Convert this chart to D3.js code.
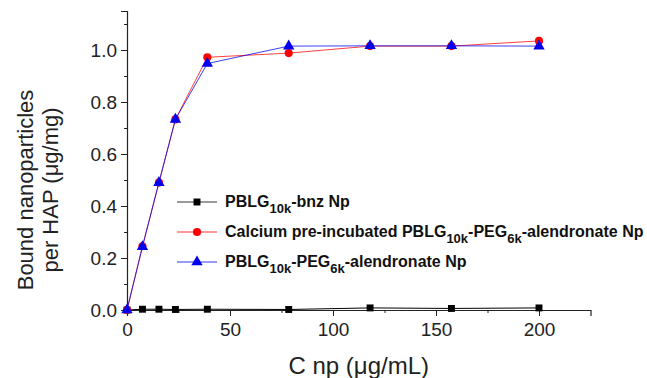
<!DOCTYPE html>
<html>
<head>
<meta charset="utf-8">
<script src="https://cdn.jsdelivr.net/npm/d3@7"></script>
<style>
  html, body { margin: 0; padding: 0; background: #fff; }
  svg { display: block; font-family: Arial, "Liberation Sans", sans-serif; }
</style>
</head>
<body>
<svg id="chart" width="647" height="378"></svg>
<script>
// Nanoparticle concentration (µg/mL)
const concentrations = [0, 7.5, 15.5, 23.5, 39, 78.5, 118, 157.5, 200];
// Bound nanoparticles per HAP (µg/mg)
const bnzValues      = [0, 0.003, 0.003, 0.002, 0.003, 0.002, 0.008, 0.006, 0.008];
const calciumValues  = [0, 0.245, 0.49, 0.733, 0.972, 0.988, 1.015, 1.015, 1.035];
const alendValues    = [0, 0.243, 0.49, 0.733, 0.948, 1.015, 1.016, 1.016, 1.015];
const xTicks = [0, 50, 100, 150, 200];
const yTicks = [0.0, 0.2, 0.4, 0.6, 0.8, 1.0];

const svg = d3.select("#chart");
const x = d3.scaleLinear().domain([0, 225]).range([127, 590.5]);
const y = d3.scaleLinear().domain([0, 1.15]).range([310, 11]);
const FONT = "Arial, 'Liberation Sans', sans-serif";

// Axes with outward major and minor ticks
const yMinor = d3.range(0.1, 1.15, 0.2);
const xMinor = d3.range(25, 225, 50);

const xAxisG = svg.append("g").attr("transform", `translate(0,${y(0)})`);
xAxisG.call(d3.axisBottom(x).tickValues(xTicks).tickSize(6).tickPadding(7).tickFormat(d3.format("d")));
xAxisG.append("g").call(d3.axisBottom(x).tickValues(xMinor).tickSize(3).tickFormat(""))
  .select(".domain").remove();
xAxisG.selectAll("text").attr("font-size", 19).attr("fill", "#222").attr("font-family", FONT);

const yAxisG = svg.append("g").attr("transform", `translate(${x(0)},0)`);
yAxisG.call(d3.axisLeft(y).tickValues(yTicks).tickSize(6).tickPadding(4).tickFormat(d3.format(".1f")));
yAxisG.append("g").call(d3.axisLeft(y).tickValues(yMinor).tickSize(3).tickFormat(""))
  .select(".domain").remove();
yAxisG.selectAll("text").attr("font-size", 19).attr("fill", "#222").attr("font-family", FONT);

svg.selectAll(".domain").attr("stroke", "#222").attr("stroke-width", 1.2);
svg.selectAll(".tick line").attr("stroke", "#222").attr("stroke-width", 1);

// Axis titles
svg.append("text")
  .attr("x", (x(0) + x(225)) / 2).attr("y", 374)
  .attr("text-anchor", "middle").attr("font-size", 24).attr("fill", "#222")
  .text("C np (μg/mL)");
const yTitle = svg.append("text")
  .attr("transform", `translate(33,190) rotate(-90)`)
  .attr("text-anchor", "middle").attr("font-size", 22).attr("fill", "#222");
yTitle.append("tspan").attr("x", 0).attr("dy", 0).text("Bound nanoparticles");
yTitle.append("tspan").attr("x", 0).attr("dy", 25).text("per HAP (μg/mg)");

const series = [
  { values: bnzValues, color: "#000000", marker: "square" },
  { values: calciumValues, color: "#ff0000", marker: "circle" },
  { values: alendValues, color: "#0000ee", marker: "triangle" }
];

const line = d3.line().x(d => x(d[0])).y(d => y(d[1]));
const symbolFor = m => m === "square" ? d3.symbol(d3.symbolSquare, 48)
  : m === "circle" ? d3.symbol(d3.symbolCircle, 52)
  : d3.symbol(d3.symbolTriangle, 56);

series.forEach(s => {
  const pts = concentrations.map((c, i) => [c, s.values[i]]);
  svg.append("path").datum(pts).attr("d", line)
    .attr("fill", "none").attr("stroke", s.color).attr("stroke-width", 1)
    .attr("stroke-opacity", s.marker === "square" ? 1 : 0.75);
  svg.append("g").selectAll("path").data(pts).join("path")
    .attr("transform", d => `translate(${x(d[0])},${y(d[1])})`)
    .attr("d", symbolFor(s.marker)())
    .attr("fill", s.color);
});

// Legend
const legendRows = [
  { color: "#000000", marker: "square", parts: [["PBLG", ""], ["10k", "sub"], ["-bnz Np", ""]] },
  { color: "#ff0000", marker: "circle", parts: [["Calcium pre-incubated PBLG", ""], ["10k", "sub"], ["-PEG", ""], ["6k", "sub"], ["-alendronate Np", ""]] },
  { color: "#0000ee", marker: "triangle", parts: [["PBLG", ""], ["10k", "sub"], ["-PEG", ""], ["6k", "sub"], ["-alendronate Np", ""]] }
];
const legend = svg.append("g");
legendRows.forEach((r, i) => {
  const yy = 202 + i * 30;
  legend.append("line").attr("x1", 177).attr("x2", 217).attr("y1", yy).attr("y2", yy)
    .attr("stroke", r.color).attr("stroke-width", 1).attr("stroke-opacity", 0.8);
  legend.append("path").attr("transform", `translate(197,${yy})`)
    .attr("d", symbolFor(r.marker)()).attr("fill", r.color);
  const t = legend.append("text").attr("x", 225).attr("y", yy + 5)
    .attr("font-size", 16).attr("font-weight", "bold").attr("fill", "#111");
  r.parts.forEach(([txt, kind]) => {
    const ts = t.append("tspan").text(txt);
    if (kind === "sub") ts.attr("font-size", 13).attr("dy", 6);
    else if (t.selectAll("tspan").size() > 1) ts.attr("dy", -6);
  });
});
</script>
</body>
</html>
